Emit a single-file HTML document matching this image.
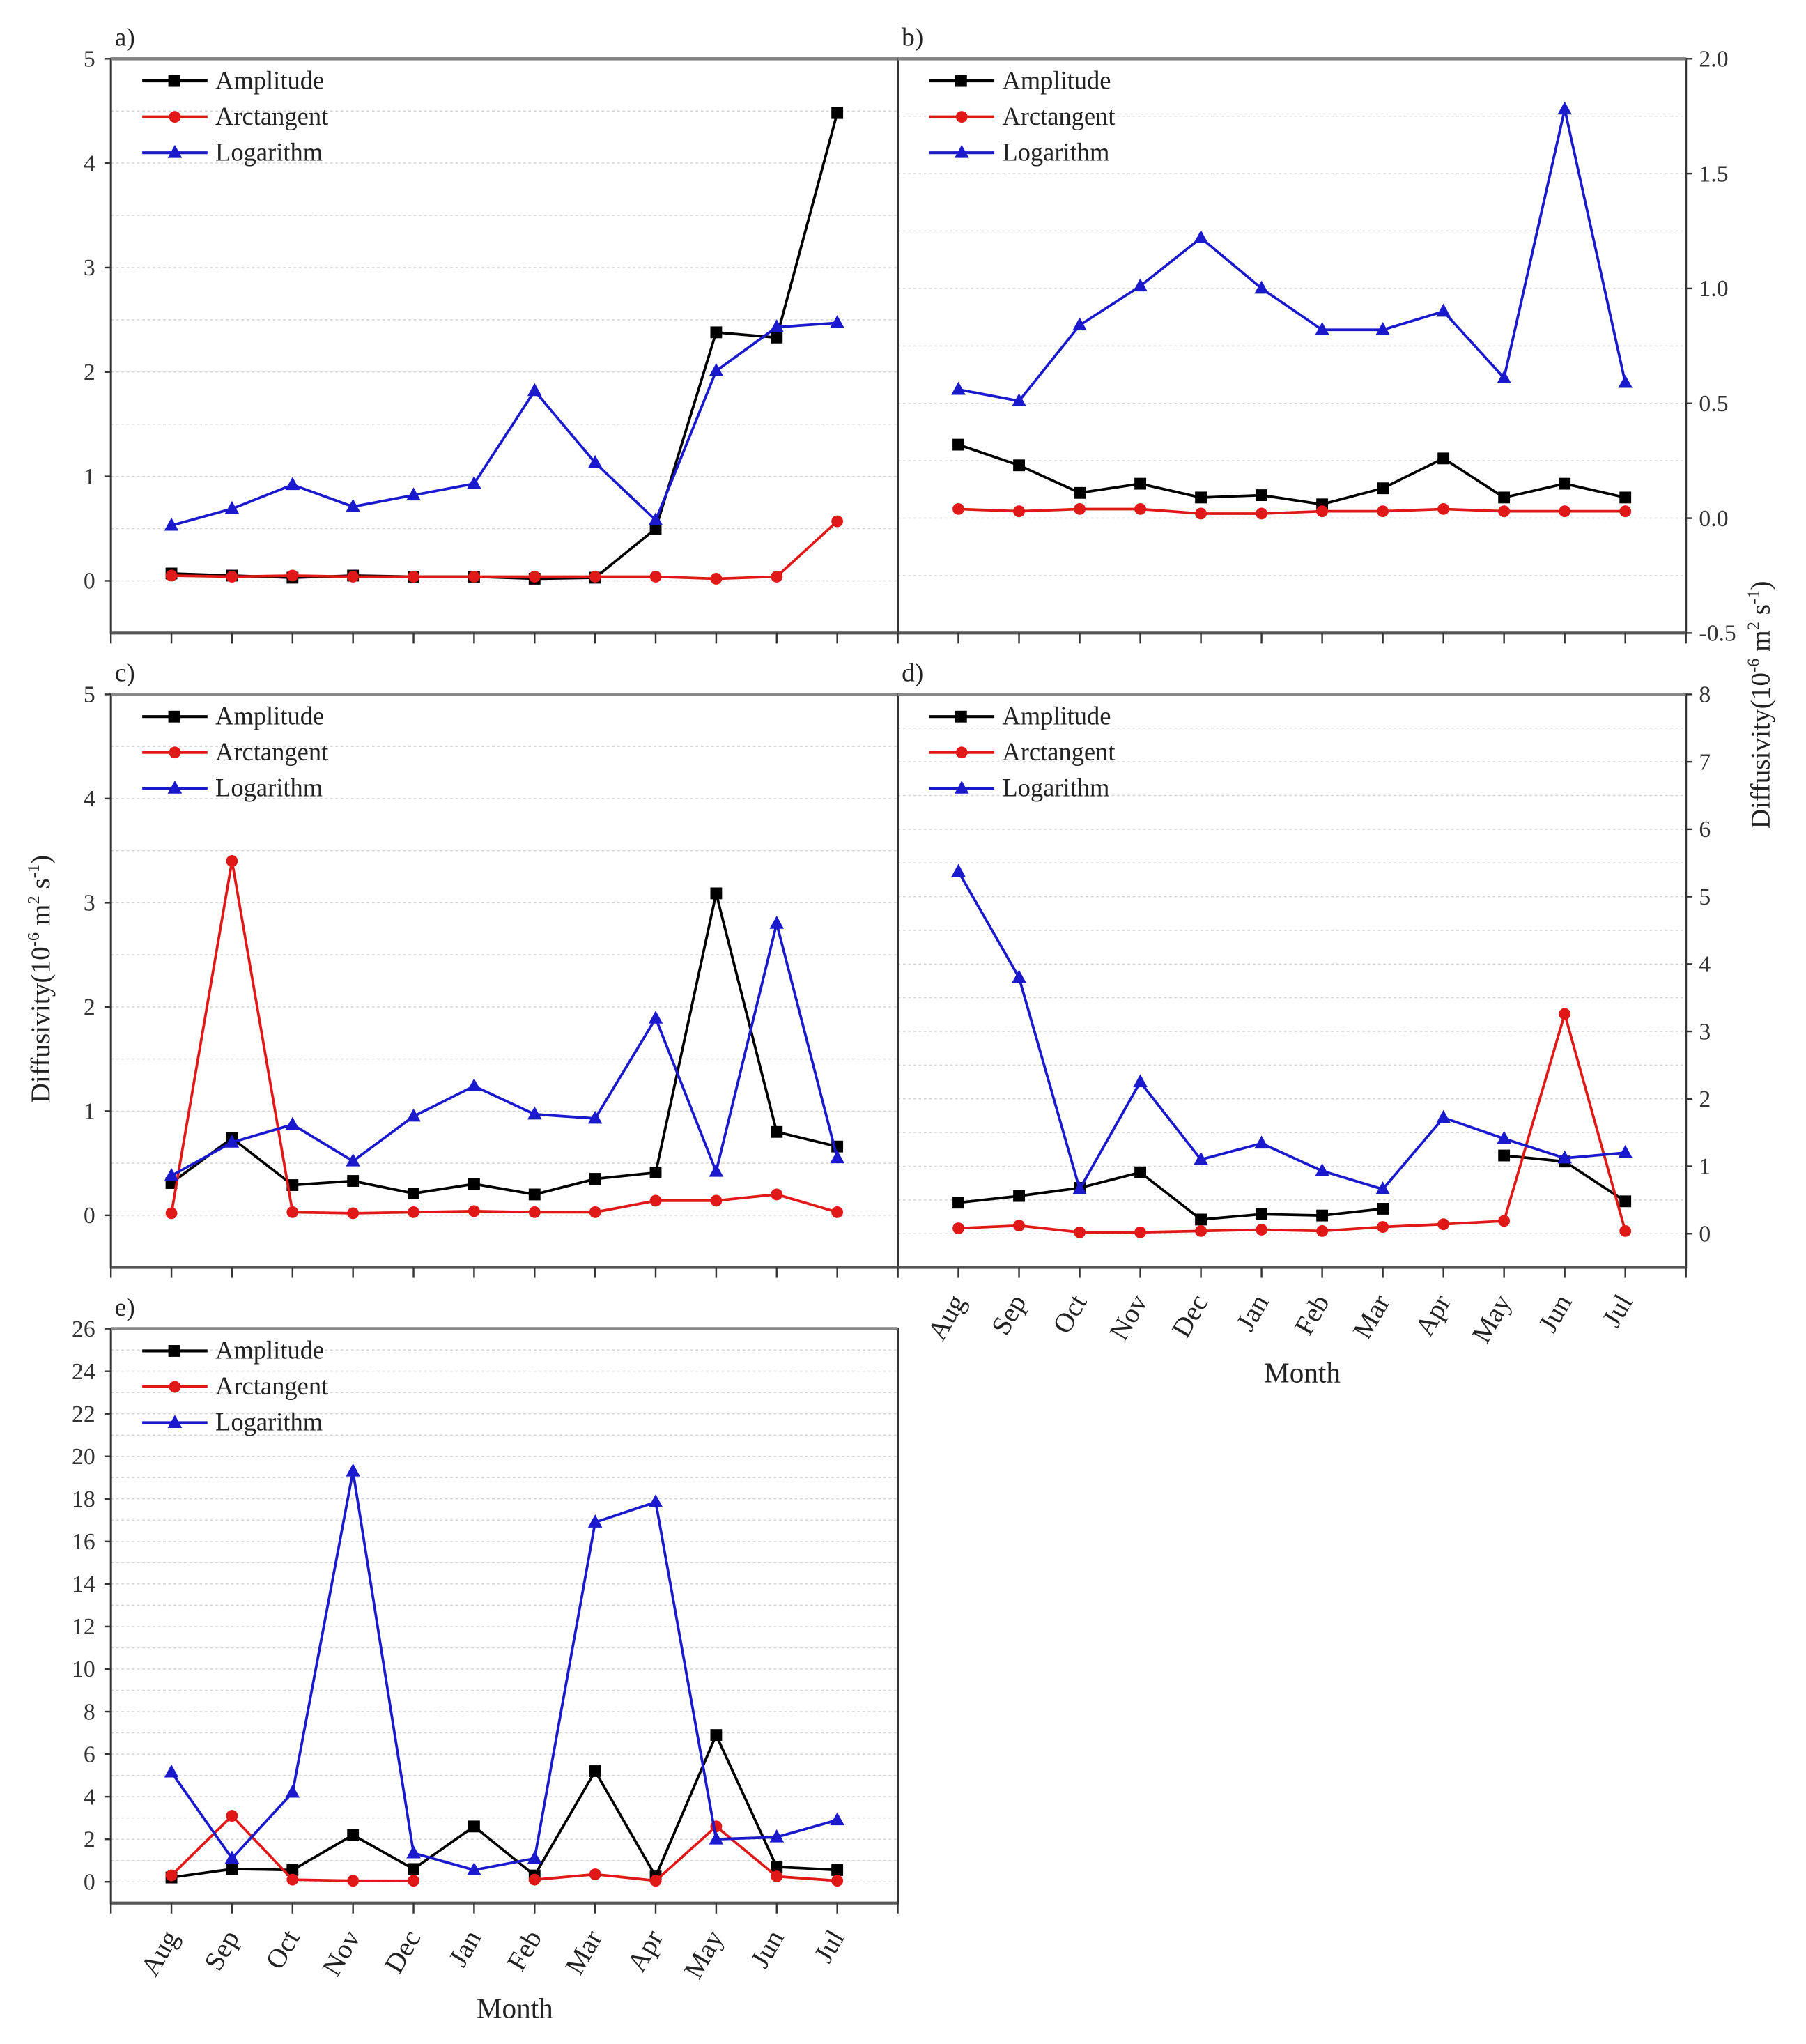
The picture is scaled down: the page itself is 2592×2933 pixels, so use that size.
<!DOCTYPE html>
<html><head><meta charset="utf-8"><style>
html,body{margin:0;padding:0;background:#fff}
svg{display:block;font-family:"Liberation Serif",serif}
</style></head><body>
<svg id="fig" width="2592" height="2933" viewBox="0 0 1384 1566" preserveAspectRatio="none" xmlns="http://www.w3.org/2000/svg"></svg>
<script>
const months = ["Aug","Sep","Oct","Nov","Dec","Jan","Feb","Mar","Apr","May","Jun","Jul"];
const seriesNames = ["Amplitude","Arctangent","Logarithm"];
const aAmp = [0.07,0.05,0.03,0.05,0.04,0.04,0.02,0.03,0.5,2.38,2.33,4.48];
const aArc = [0.05,0.04,0.05,0.04,0.04,0.04,0.04,0.04,0.04,0.02,0.04,0.57];
const aLog = [0.53,0.69,0.92,0.71,0.82,0.93,1.82,1.13,0.58,2.01,2.43,2.47];
const bAmp = [0.32,0.23,0.11,0.15,0.09,0.10,0.06,0.13,0.26,0.09,0.15,0.09];
const bArc = [0.04,0.03,0.04,0.04,0.02,0.02,0.03,0.03,0.04,0.03,0.03,0.03];
const bLog = [0.56,0.51,0.84,1.01,1.22,1.0,0.82,0.82,0.9,0.61,1.78,0.59];
const cAmp = [0.31,0.74,0.29,0.33,0.21,0.30,0.20,0.35,0.41,3.09,0.80,0.66];
const cArc = [0.02,3.40,0.03,0.02,0.03,0.04,0.03,0.03,0.14,0.14,0.20,0.03];
const cLog = [0.38,0.70,0.87,0.52,0.95,1.24,0.97,0.93,1.89,0.42,2.80,0.55];
const dAmp = [0.46,0.56,0.68,0.91,0.21,0.29,0.27,0.37,null,1.16,1.07,0.48];
const dArc = [0.08,0.12,0.02,0.02,0.04,0.06,0.04,0.10,0.14,0.19,3.26,0.04];
const dLog = [5.37,3.8,0.66,2.25,1.1,1.34,0.93,0.66,1.72,1.41,1.12,1.2];
const eAmp = [0.2,0.6,0.55,2.2,0.6,2.6,0.3,5.2,0.25,6.9,0.7,0.55];
const eArc = [0.3,3.1,0.1,0.05,0.05,null,0.1,0.35,0.05,2.6,0.25,0.05];
const eLog = [5.15,1.1,4.2,19.3,1.35,0.55,1.1,16.9,17.85,2.0,2.1,2.9];
const ticksA = [0,1,2,3,4,5];
const ticksB = [-0.5,0.0,0.5,1.0,1.5,2.0];
const ticksD = [0,1,2,3,4,5,6,7,8];
const ticksE = [0,2,4,6,8,10,12,14,16,18,20,22,24,26];

const NS="http://www.w3.org/2000/svg";
const svg=document.getElementById('fig');
function el(tag,attrs,parent,text){const e=document.createElementNS(NS,tag);for(const k in attrs)e.setAttribute(k,attrs[k]);if(text!==undefined)e.textContent=text;(parent||svg).appendChild(e);return e;}
const colors=["#000000","#e01818","#1a1acc"];

function panel(key,label,x0,x1,yTop,yBot,vmin,vmax,ticks,tickFmt,side,data,showMonths,gridStep){
  const g=el('g',{});
  
  
  const xs=i=>x0+(x1-x0)*(i+1)/13;
  const ys=v=>yBot-(v-vmin)/(vmax-vmin)*(yBot-yTop);
  for(let v=vmin;v<=vmax+1e-9;v+=gridStep){
    const y=ys(v);
    const gl=el('line',{x1:x0,x2:x1,y1:y,y2:y,stroke:'#d4d4d4','stroke-width':0.8,'stroke-dasharray':'2,2'},g);
    
    
  }
  const fr=el('rect',{x:x0,y:yTop,width:x1-x0,height:yBot-yTop,fill:'none',stroke:'#333','stroke-width':1.6},g);
  
  
  el('line',{x1:x0,x2:x1,y1:yTop,y2:yTop,stroke:'#888','stroke-width':2.5},g);
  el('line',{x1:x0,x2:x1,y1:yBot,y2:yBot,stroke:'#555','stroke-width':2.2},g);
  for(let i=-1;i<=12;i++){const x=xs(i);el('line',{x1:x,x2:x,y1:yBot,y2:yBot+8,stroke:'#333','stroke-width':1.3},g);}
  ticks.forEach(v=>{
    const y=ys(v);
    if(side==='left'){
      el('line',{x1:x0-5,x2:x0,y1:y,y2:y,stroke:'#333','stroke-width':1.3},g);
      const t=el('text',{x:x0-12,y:y+6,'text-anchor':'end','font-size':18,fill:'#333'},g,tickFmt(v));
      
      
    } else {
      el('line',{x1:x1,x2:x1+5,y1:y,y2:y,stroke:'#333','stroke-width':1.3},g);
      const t=el('text',{x:x1+10,y:y+6,'text-anchor':'start','font-size':18,fill:'#333'},g,tickFmt(v));
      
      
    }
  });
  const lb=el('text',{x:x0+3,y:yTop-10,'font-size':20,fill:'#222'},g,label);
  
  
  data.forEach((arr,si)=>{
    const c=colors[si];
    const sg=el('g',{},g);
    
    
    let d='',pen=false;
    arr.forEach((v,i)=>{if(v===null){pen=false;return;}d+=(pen?'L':'M')+xs(i).toFixed(1)+','+ys(v).toFixed(1);pen=true;});
    const p=el('path',{d:d,fill:'none',stroke:c,'stroke-width':2},sg);
    
    
    arr.forEach((v,i)=>{
      if(v===null)return;
      const x=xs(i),y=ys(v);let m;
      if(si===0)m=el('rect',{x:x-4.5,y:y-4.5,width:9,height:9,fill:c},sg);
      else if(si===1)m=el('circle',{cx:x,cy:y,r:4.5,fill:c},sg);
      else m=el('polygon',{points:`${x},${y-6} ${x-5.5},${y+4} ${x+5.5},${y+4}`,fill:c},sg);
      
      
    });
  });
  const lg=el('g',{},g);
  
  
  seriesNames.forEach((n,si)=>{
    const y=yTop+17+si*27.5,lx=x0+24;
    el('line',{x1:lx,x2:lx+50,y1:y,y2:y,stroke:colors[si],'stroke-width':2.2},lg);
    if(si===0)el('rect',{x:lx+20,y:y-4.5,width:9,height:9,fill:colors[si]},lg);
    else if(si===1)el('circle',{cx:lx+25,cy:y,r:4.5,fill:colors[si]},lg);
    else el('polygon',{points:`${lx+25},${y-6} ${lx+19.5},${y+4} ${lx+30.5},${y+4}`,fill:colors[si]},lg);
    const t=el('text',{x:lx+56,y:y+6,'font-size':19.5,fill:'#222'},lg,n);
    
    
  });
  if(showMonths){
    months.forEach((m,i)=>{
      const x=xs(i),y=yBot+18;
      const t=el('text',{x:x+6,y:y+8,'text-anchor':'end','font-size':21,fill:'#222',transform:`rotate(-60 ${x+6} ${y+8})`},g,m);
      
      
    });
    const mt=el('text',{x:(x0+x1)/2+8,y:yBot+88,'text-anchor':'middle','font-size':22,fill:'#222'},g,'Month');
    
    
  }
}
const f0=v=>String(v), f1=v=>v.toFixed(1);
panel('a','a)',85,688,45,485,-0.5,5,ticksA,f0,'left',[aAmp,aArc,aLog],false,0.5);
panel('b','b)',688,1292,45,485,-0.5,2.0,ticksB,f1,'right',[bAmp,bArc,bLog],false,0.25);
panel('c','c)',85,688,532,971,-0.5,5,ticksA,f0,'left',[cAmp,cArc,cLog],false,0.5);
panel('d','d)',688,1292,532,971,-0.5,8,ticksD,f0,'right',[dAmp,dArc,dLog],true,0.5);
panel('e','e)',85,688,1018,1458,-1,26,ticksE,f0,'left',[eAmp,eArc,eLog],true,1);
const yl=el('text',{x:38,y:750,'text-anchor':'middle','font-size':21,fill:'#222',transform:'rotate(-90 38 750)'},svg);


yl.innerHTML='Diffusivity(10<tspan font-size="13" dy="-8">-6</tspan><tspan dy="8"> m</tspan><tspan font-size="13" dy="-8">2</tspan><tspan dy="8"> s</tspan><tspan font-size="13" dy="-8">-1</tspan><tspan dy="8">)</tspan>';
const yr=el('text',{x:1356,y:540,'text-anchor':'middle','font-size':21,fill:'#222',transform:'rotate(-90 1356 540)'},svg);


yr.innerHTML='Diffusivity(10<tspan font-size="13" dy="-8">-6</tspan><tspan dy="8"> m</tspan><tspan font-size="13" dy="-8">2</tspan><tspan dy="8"> s</tspan><tspan font-size="13" dy="-8">-1</tspan><tspan dy="8">)</tspan>';
</script>
</body></html>
